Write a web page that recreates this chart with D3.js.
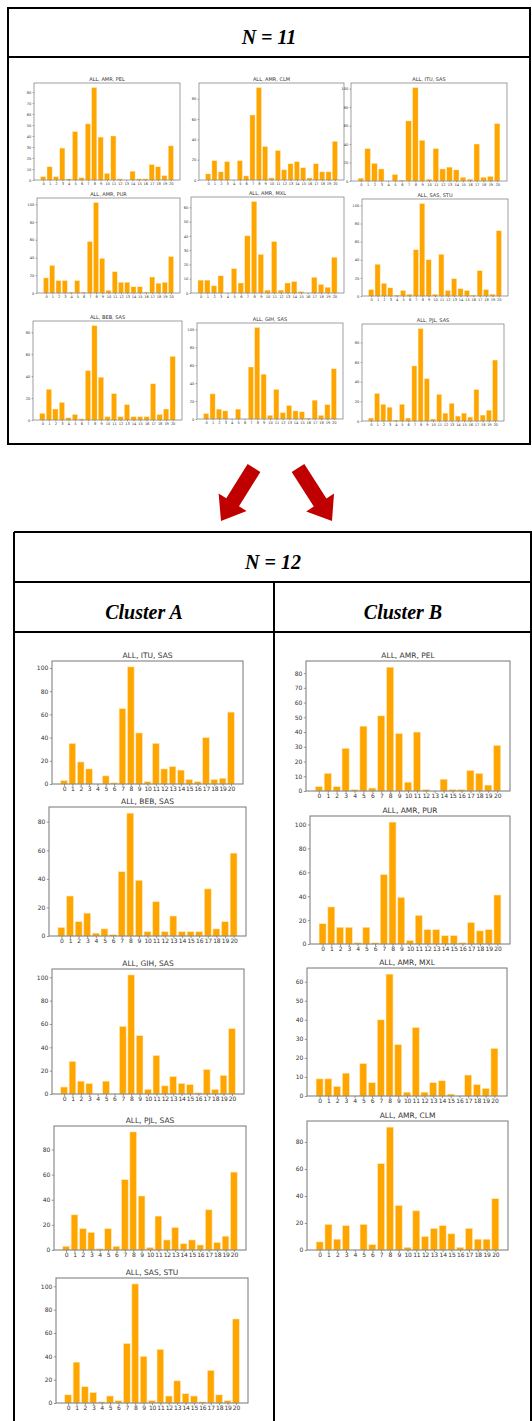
<!DOCTYPE html>
<html><head><meta charset="utf-8">
<script src="https://cdn.jsdelivr.net/npm/d3@7"></script>
<style>body{margin:0;background:#fff}svg{display:block}</style>
</head><body>
<svg id="c" width="532" height="1421"></svg>
<script>
const categories = ["0","1","2","3","4","5","6","7","8","9","10","11","12","13","14","15","16","17","18","19","20"];
const AMR_PEL = [3,12,3,29,1,44,2,51,84,39,6,40,1,0,8,1,1,14,12,4,31];
const AMR_CLM = [6,19,8,18,0,19,4,64,91,33,2,29,10,16,18,12,2,16,8,8,38];
const ITU_SAS = [3,35,19,13,0,7,1,65,101,44,2,35,13,15,12,4,2,40,4,5,62];
const AMR_PUR = [17,31,14,14,1,14,1,58,102,39,3,24,12,12,7,7,1,18,11,12,41];
const AMR_MXL = [9,9,5,12,0,17,7,40,64,27,2,36,2,7,8,1,0,11,6,4,25];
const SAS_STU = [7,35,14,9,1,6,2,51,102,40,2,46,6,19,8,6,1,28,7,2,72];
const BEB_SAS = [6,28,10,16,2,5,1,45,86,39,3,24,3,14,3,3,3,33,5,10,58];
const GIH_SAS = [6,28,11,9,0,11,0,58,102,50,4,33,7,15,9,8,1,21,4,16,56];
const PJL_SAS = [3,28,17,14,1,17,3,56,94,43,2,27,8,18,5,8,4,32,6,11,62];

const ticksBy10to80 = [0,10,20,30,40,50,60,70,80];
const ticksBy10to60 = [0,10,20,30,40,50,60];
const ticksBy20to80 = [0,20,40,60,80];
const ticksBy20to100 = [0,20,40,60,80,100];

const headerTop = "N = 11";
const headerBottom = "N = 12";
const clusterLabels = ["Cluster A", "Cluster B"];

const svg = d3.select("#c");

// ---- layout ----
const small = {title:5, tick:3.6, tickLen:1.3, frame:0.7, ls:-0.1};
const large = {title:7.5, tick:6, tickLen:2.2, frame:1, ls:-0.2};

const panels = [
  {t:"ALL, AMR, PEL", v:AMR_PEL, k:ticksBy10to80, x:34, y:83, w:146, h:97, s:small},
  {t:"ALL, AMR, CLM", v:AMR_CLM, k:ticksBy20to80, x:199, y:83, w:145, h:97, s:small},
  {t:"ALL, ITU, SAS", v:ITU_SAS, k:ticksBy20to100, x:351, y:83, w:156, h:98, s:small},
  {t:"ALL, AMR, PUR", v:AMR_PUR, k:ticksBy20to100, x:37, y:198, w:143, h:95, s:small},
  {t:"ALL, AMR, MXL", v:AMR_MXL, k:ticksBy10to60, x:191, y:197, w:153, h:96, s:small},
  {t:"ALL, SAS, STU", v:SAS_STU, k:ticksBy20to100, x:362, y:199, w:146, h:97, s:small},
  {t:"ALL, BEB, SAS", v:BEB_SAS, k:ticksBy20to80, x:33, y:321, w:149, h:99, s:small},
  {t:"ALL, GIH, SAS", v:GIH_SAS, k:ticksBy20to100, x:197, y:323, w:146, h:96, s:small},
  {t:"ALL, PJL, SAS", v:PJL_SAS, k:ticksBy20to80, x:362, y:324, w:142, h:97, s:small},

  {t:"ALL, ITU, SAS", v:ITU_SAS, k:ticksBy20to100, x:52, y:661, w:191, h:123, s:large},
  {t:"ALL, BEB, SAS", v:BEB_SAS, k:ticksBy20to80, x:49, y:807, w:197, h:129, s:large},
  {t:"ALL, GIH, SAS", v:GIH_SAS, k:ticksBy20to100, x:52, y:969, w:192, h:125, s:large},
  {t:"ALL, PJL, SAS", v:PJL_SAS, k:ticksBy20to80, x:54, y:1126, w:192, h:124, s:large},
  {t:"ALL, SAS, STU", v:SAS_STU, k:ticksBy20to100, x:56, y:1278, w:192, h:125, s:large},

  {t:"ALL, AMR, PEL", v:AMR_PEL, k:ticksBy10to80, x:306, y:661, w:204, h:130, s:large},
  {t:"ALL, AMR, PUR", v:AMR_PUR, k:ticksBy20to100, x:310, y:816, w:200, h:128, s:large},
  {t:"ALL, AMR, MXL", v:AMR_MXL, k:ticksBy10to60, x:307, y:968, w:200, h:128, s:large},
  {t:"ALL, AMR, CLM", v:AMR_CLM, k:ticksBy20to80, x:307, y:1121, w:201, h:129, s:large}
];

function drawPanel(p) {
  const s = p.s;
  const g = svg.append("g").attr("transform", `translate(${p.x},${p.y})`);
  const xs = d3.scaleLinear().domain([-1.44, categories.length - 1 + 1.44]).range([0, p.w]);
  const ys = d3.scaleLinear().domain([0, d3.max(p.v) * 1.05]).range([p.h, 0]);

  g.selectAll("rect.bar").data(p.v).join("rect")
    .attr("class", "bar")
    .attr("x", (d, i) => xs(i - 0.4))
    .attr("width", xs(0.8) - xs(0))
    .attr("y", d => ys(d))
    .attr("height", d => p.h - ys(d))
    .attr("fill", "#FFA500")
    .attr("stroke", "#FFE9B8")
    .attr("stroke-width", s === small ? 0.4 : 0.6);

  const xAxis = d3.axisBottom(xs)
    .tickValues(categories.map((c, i) => i))
    .tickFormat(i => categories[i])
    .tickSize(s.tickLen).tickPadding(1);
  const ax = g.append("g").attr("transform", `translate(0,${p.h})`).call(xAxis);
  const yAxis = d3.axisLeft(ys).tickValues(p.k).tickSize(s.tickLen).tickPadding(1.5);
  const ay = g.append("g").call(yAxis);
  [ax, ay].forEach(a => {
    a.select(".domain").remove();
    a.selectAll("line").attr("stroke", "#555").attr("stroke-width", 0.6);
    a.selectAll("text").attr("fill", "#333")
      .style("font-family", "DejaVu Sans").style("font-size", s.tick + "px");
  });
  ax.selectAll("text").style("letter-spacing", s.ls + "px");

  g.append("rect").attr("x", 0).attr("y", 0).attr("width", p.w).attr("height", p.h)
    .attr("fill", "none").attr("stroke", "#777").attr("stroke-width", s.frame);

  g.append("text").attr("x", p.w / 2).attr("y", -s.title * 0.45)
    .attr("text-anchor", "middle").attr("fill", "#333")
    .style("font-family", "DejaVu Sans").style("font-size", s.title + "px")
    .text(p.t);
}

// ---- frames ----
const line = (x1, y1, x2, y2) => svg.append("line")
  .attr("x1", x1).attr("y1", y1).attr("x2", x2).attr("y2", y2)
  .attr("stroke", "#000").attr("stroke-width", 2);

// top box
svg.append("rect").attr("x", 8).attr("y", 8).attr("width", 522).attr("height", 436)
  .attr("fill", "none").attr("stroke", "#000").attr("stroke-width", 2);
line(8, 57, 530, 57);

// bottom box
line(14, 532, 532, 532);
line(14, 532, 14, 1421);
line(531, 532, 531, 1421);
line(14, 582, 532, 582);
line(14, 632, 532, 632);
line(274, 582, 274, 1421);

const hdr = (txt, x, y, size) => svg.append("text").attr("x", x).attr("y", y)
  .attr("text-anchor", "middle")
  .style("font-family", "Liberation Serif").style("font-weight", "bold")
  .style("font-style", "italic").style("font-size", size + "px").text(txt);
hdr(headerTop, 269, 44, 20);
hdr(headerBottom, 273, 569, 20);
hdr(clusterLabels[0], 144, 619, 20);
hdr(clusterLabels[1], 403, 619, 20);

// arrows
function arrow(tail, tip, shaftW, headW, headL) {
  const dx = tip[0] - tail[0], dy = tip[1] - tail[1];
  const L = Math.hypot(dx, dy);
  const ux = dx / L, uy = dy / L, nx = -uy, ny = ux;
  const bx = tip[0] - ux * headL, by = tip[1] - uy * headL;
  const pts = [
    [tail[0] + nx * shaftW / 2, tail[1] + ny * shaftW / 2],
    [bx + nx * shaftW / 2, by + ny * shaftW / 2],
    [bx + nx * headW / 2, by + ny * headW / 2],
    tip,
    [bx - nx * headW / 2, by - ny * headW / 2],
    [bx - nx * shaftW / 2, by - ny * shaftW / 2],
    [tail[0] - nx * shaftW / 2, tail[1] - ny * shaftW / 2]
  ];
  svg.append("polygon").attr("points", pts.map(p => p.join(",")).join(" "))
    .attr("fill", "#C00000");
}
arrow([254, 468], [221, 521], 15, 33, 22);
arrow([298, 468], [332, 521], 15, 33, 22);

panels.forEach(drawPanel);
</script>
</body></html>
